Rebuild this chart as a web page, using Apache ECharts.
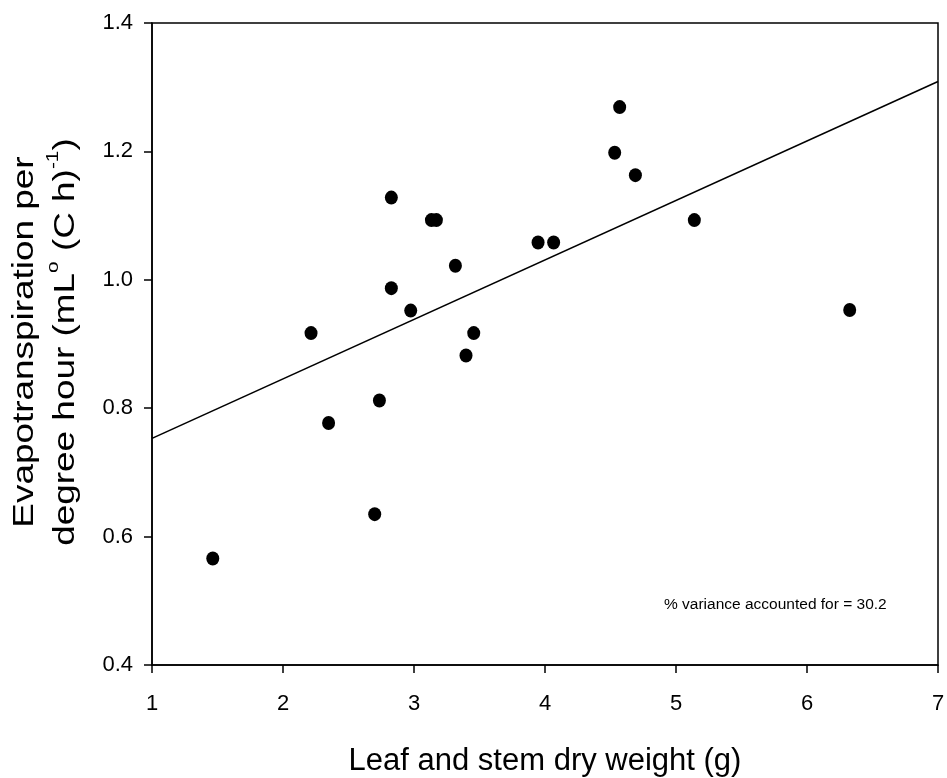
<!DOCTYPE html>
<html>
<head>
<meta charset="utf-8">
<script src="https://cdn.jsdelivr.net/npm/echarts@6/dist/echarts.min.js"></script>
<style>html,body{margin:0;padding:0;background:#fff}#c{width:947px;height:778px}</style>
</head>
<body>
<div id="c"></div>
<script>
const dryWeight = [1.464, 2.214, 2.348, 2.700, 2.736, 2.827, 2.827, 2.975, 3.133, 3.171, 3.316, 3.397, 3.456, 3.947, 4.066, 4.532, 4.570, 4.690, 5.140, 6.326];
const etRate    = [0.566, 0.917, 0.777, 0.635, 0.812, 1.128, 0.987, 0.952, 1.093, 1.093, 1.022, 0.882, 0.917, 1.058, 1.058, 1.198, 1.269, 1.163, 1.093, 0.953];
const fitX = [1, 7];
const fitY = [0.753, 1.309];
const xTicks = [1, 2, 3, 4, 5, 6, 7];
const yTicks = [0.4, 0.6, 0.8, 1.0, 1.2, 1.4];
const xTitle = 'Leaf and stem dry weight (g)';
const yTitle1 = 'Evapotranspiration per';
const yTitle2 = ['degree hour (mL', 'o', ' (C h)', '-1', ')'];
const annotation = '% variance accounted for = 30.2';

const FONT = '"Liberation Sans", Arial, sans-serif';
const chart = echarts.init(document.getElementById('c'));
chart.setOption({
  animation: false,
  backgroundColor: '#fff',
  grid: { left: 152, right: 9, top: 23, bottom: 113, containLabel: false, outerBoundsMode: 'none', show: true, borderColor: '#000', borderWidth: 1.5 },
  xAxis: {
    type: 'value', min: xTicks[0], max: xTicks[xTicks.length - 1], interval: 1,
    name: xTitle, nameLocation: 'middle', nameGap: 81,
    nameTextStyle: { fontFamily: FONT, fontSize: 31, color: '#000' },
    axisLine: { lineStyle: { color: '#000', width: 1.5 } },
    axisTick: { show: true, length: 8, inside: false, lineStyle: { color: '#000', width: 1.5 } },
    axisLabel: { fontFamily: FONT, fontSize: 22, color: '#000', margin: 28 },
    splitLine: { show: false }
  },
  yAxis: {
    type: 'value', min: yTicks[0], max: yTicks[yTicks.length - 1], interval: 0.2,
    axisLine: { lineStyle: { color: '#000', width: 1.5 } },
    axisTick: { show: true, length: 8, inside: false, lineStyle: { color: '#000', width: 1.5 } },
    axisLabel: { fontFamily: FONT, fontSize: 22, color: '#000', margin: 19, formatter: v => v.toFixed(1) },
    splitLine: { show: false }
  },
  series: [
    {
      type: 'line', data: fitX.map((x, i) => [x, fitY[i]]), showSymbol: false, symbol: 'none',
      lineStyle: { color: '#000', width: 1.6 }, silent: true, z: 2
    },
    {
      type: 'scatter', data: dryWeight.map((x, i) => [x, etRate[i]]),
      symbol: 'circle', symbolSize: [13, 14], itemStyle: { color: '#000', opacity: 1 }, z: 3
    }
  ],
  graphic: [
    {
      type: 'text', x: 45, y: 342, rotation: Math.PI / 2, scaleX: 1.23,
      style: {
        text: '{a|' + yTitle1 + '}\n{a|' + yTitle2[0] + '}{s|' + yTitle2[1] + '}{a|' + yTitle2[2] + '}{s|' + yTitle2[3] + '}{a|' + yTitle2[4] + '}',
        align: 'center', verticalAlign: 'middle', textAlign: 'center', textVerticalAlign: 'middle',
        fill: '#000',
        rich: {
          a: { fontFamily: FONT, fontSize: 30, fill: '#000', lineHeight: 41 },
          s: { fontFamily: FONT, fontSize: 17, fill: '#000', lineHeight: 41, verticalAlign: 'top', padding: [0, 0, 5, 0] }
        }
      }
    },
    {
      type: 'text', left: 664, top: 597,
      style: { text: annotation, fontFamily: FONT, fontSize: 15.5, fill: '#000' }
    }
  ]
});
</script>
</body>
</html>
